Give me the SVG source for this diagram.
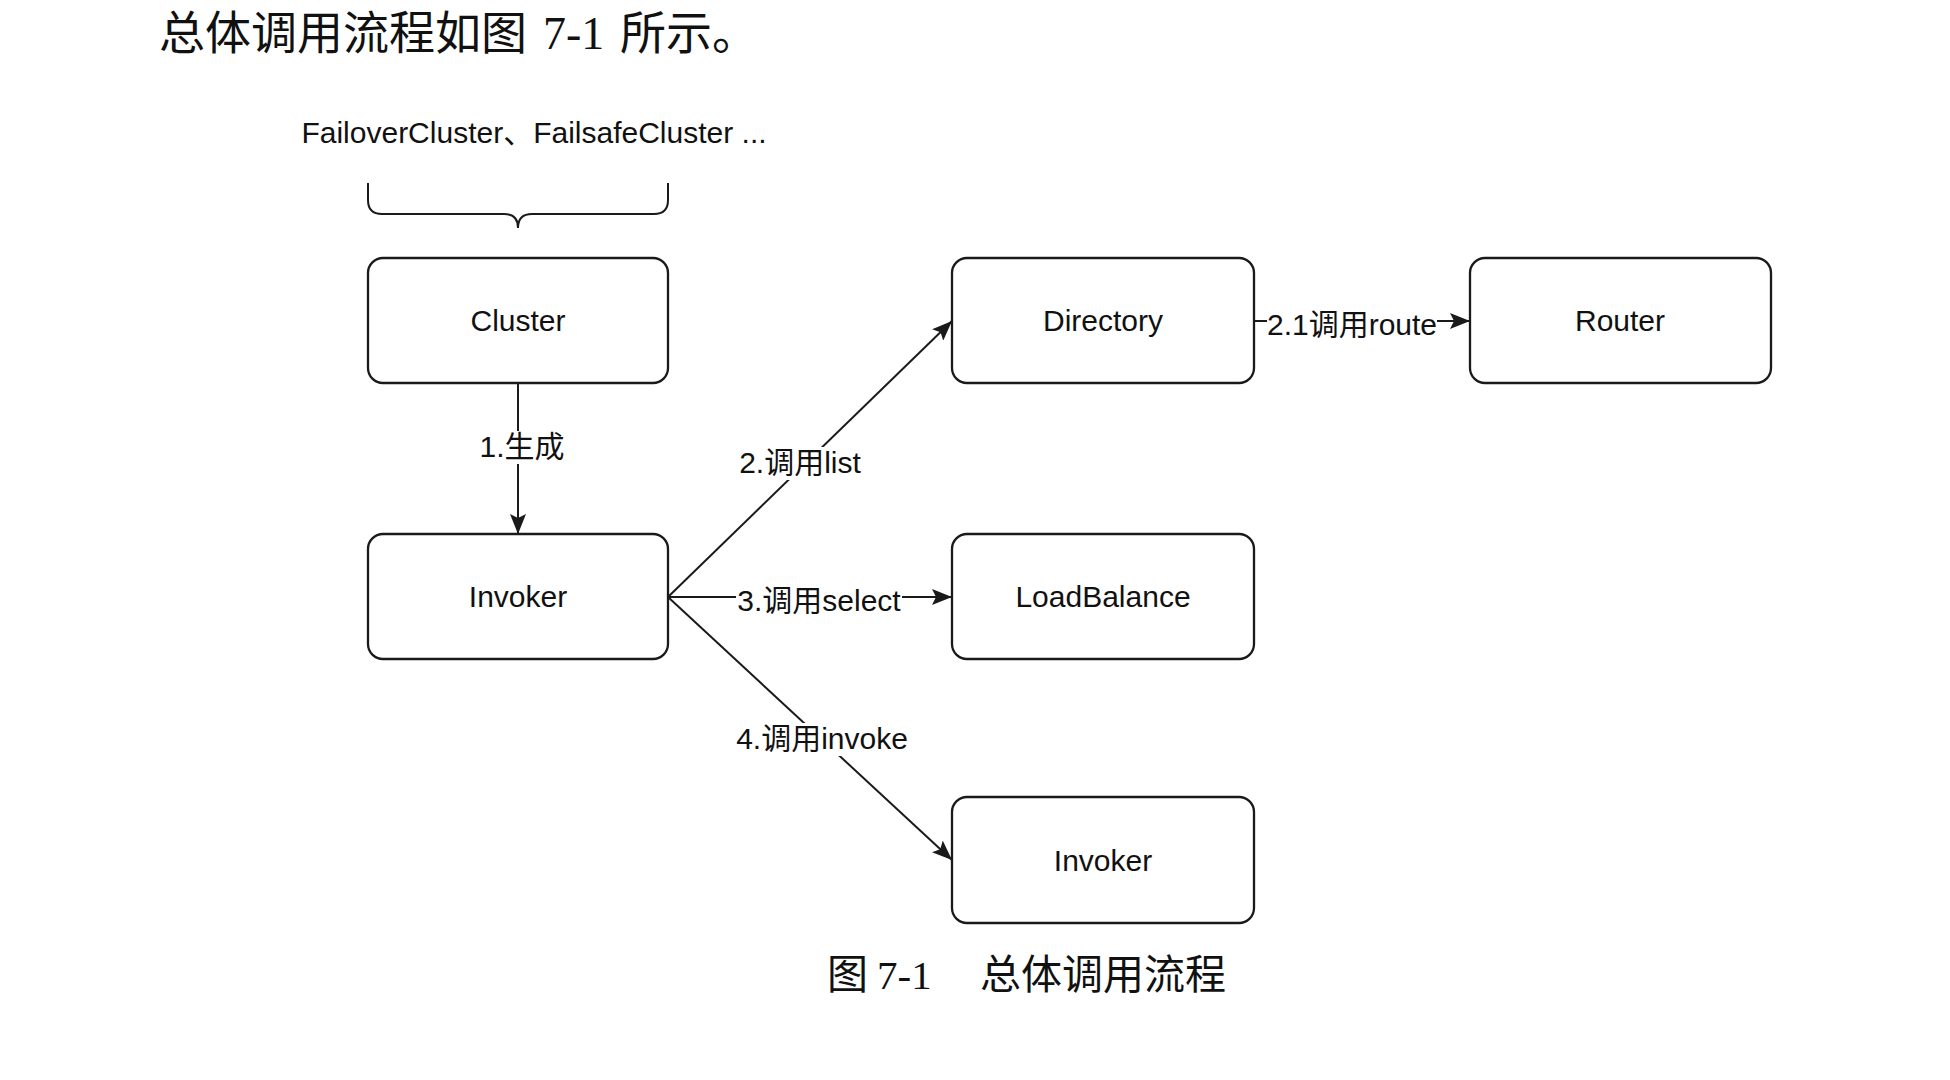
<svg xmlns="http://www.w3.org/2000/svg" width="1950" height="1080" viewBox="0 0 1950 1080">
<style>
.box{fill:#fff;stroke:#1a1a1a;stroke-width:2.3}
.lbl{font-family:"Liberation Sans","Noto Sans CJK SC",sans-serif;font-size:30px;fill:#111;text-anchor:middle}
.edge{stroke:#1a1a1a;stroke-width:2;fill:none}
.bg{fill:#fff}
.serif{font-family:"Liberation Serif","Noto Sans CJK SC",serif;fill:#111}
</style>
<defs>
<marker id="arr" viewBox="0 0 20 16" refX="20" refY="8" markerWidth="20" markerHeight="16" markerUnits="userSpaceOnUse" orient="auto">
<path d="M0,0 L20,8 L0,16 L4,8 Z" fill="#1a1a1a"/>
</marker>
</defs>
<rect width="1950" height="1080" fill="#fff"/>
<text class="serif" font-size="46" y="49"><tspan x="159">总体调用流程如图</tspan><tspan x="543">7-1</tspan><tspan x="620">所示。</tspan></text>

<g id="cluster-impls">
<text class="lbl" x="534" y="143">FailoverCluster、FailsafeCluster ...</text>
<path class="edge" d="M368,183 V200 Q368,214 382,214 H504 Q518,214 518,228 Q518,214 532,214 H654 Q668,214 668,200 V183"/>
</g>

<g id="connectors">
<line class="edge" x1="518" y1="383" x2="518" y2="534" marker-end="url(#arr)"/>
<line class="edge" x1="668" y1="597" x2="952" y2="321" marker-end="url(#arr)"/>
<line class="edge" x1="668" y1="597" x2="952" y2="597" marker-end="url(#arr)"/>
<line class="edge" x1="668" y1="597" x2="952" y2="860" marker-end="url(#arr)"/>
<line class="edge" x1="1254" y1="321" x2="1470" y2="321" marker-end="url(#arr)"/>
<rect class="bg" x="477" y="431" width="90" height="33"/>
<text class="lbl" x="522" y="457">1.生成</text>
<rect class="bg" x="738" y="447" width="124" height="33"/>
<text class="lbl" x="800" y="473">2.调用list</text>
<rect class="bg" x="736" y="585" width="166" height="33"/>
<text class="lbl" x="819" y="611">3.调用select</text>
<rect class="bg" x="735" y="723" width="174" height="33"/>
<text class="lbl" x="822" y="749">4.调用invoke</text>
<rect class="bg" x="1267" y="309" width="170" height="33"/>
<text class="lbl" x="1352" y="335">2.1调用route</text>
</g>

<g id="cluster"><rect class="box" x="368" y="258" width="300" height="125" rx="15"/><text class="lbl" x="518" y="331">Cluster</text></g>
<g id="invoker"><rect class="box" x="368" y="534" width="300" height="125" rx="15"/><text class="lbl" x="518" y="607">Invoker</text></g>
<g id="directory"><rect class="box" x="952" y="258" width="302" height="125" rx="15"/><text class="lbl" x="1103" y="331">Directory</text></g>
<g id="router"><rect class="box" x="1470" y="258" width="301" height="125" rx="15"/><text class="lbl" x="1620" y="331">Router</text></g>
<g id="loadbalance"><rect class="box" x="952" y="534" width="302" height="125" rx="15"/><text class="lbl" x="1103" y="607">LoadBalance</text></g>
<g id="invoker2"><rect class="box" x="952" y="797" width="302" height="126" rx="15"/><text class="lbl" x="1103" y="871">Invoker</text></g>

<text class="serif" font-size="41" y="989"><tspan x="827">图</tspan><tspan x="877">7-1</tspan><tspan x="980">总体调用流程</tspan></text>
</svg>
